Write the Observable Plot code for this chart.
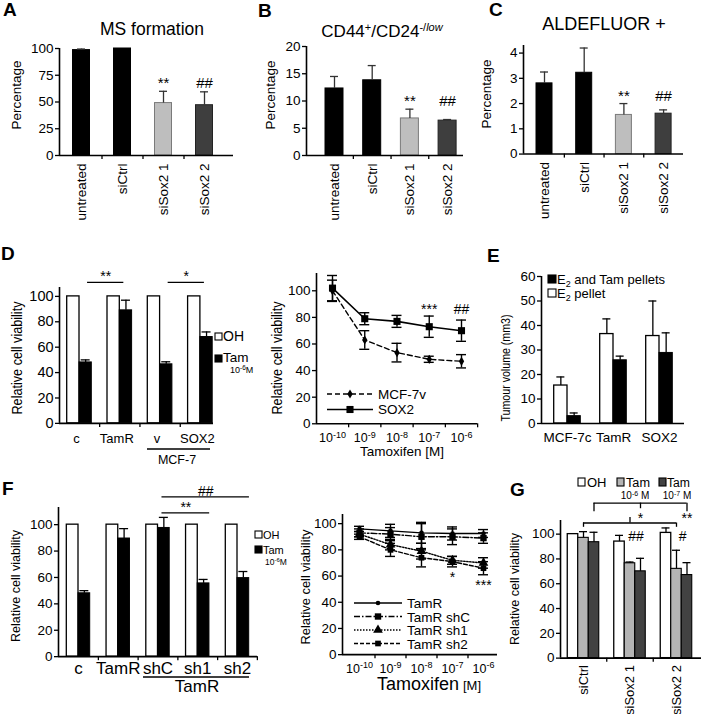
<!DOCTYPE html>
<html>
<head>
<meta charset="utf-8">
<script src="https://cdn.jsdelivr.net/npm/d3@7"></script>
<script src="https://cdn.jsdelivr.net/npm/@observablehq/plot@0.6"></script>
<style>
  html, body { margin: 0; padding: 0; background: #fff; }
  #fig { position: relative; width: 702px; height: 714px; overflow: hidden; background: #fff; }
  #fig svg { position: absolute; overflow: visible; }
</style>
</head>
<body>
<div id="fig"></div>
<script>
// ================= DATA =================
// Panels A–C
const catsABC = ["untreated", "siCtrl", "siSox2 1", "siSox2 2"];
const sigABC = ["", "", "**", "##"];
const msFormation = [98.5, 100, 49, 47];
const msFormationErr = [99.5, null, 60, 59.5];
const cd44Percent = [12.3, 13.8, 6.8, 6.4];
const cd44PercentErr = [14.5, 16.5, 8.5, 6.6];
const aldefluorPercent = [2.8, 3.22, 1.55, 1.6];
const aldefluorPercentErr = [3.25, 4.2, 2.0, 1.75];

// Panel D (left)
const catsD = ["c", "TamR", "v", "SOX2"];
const dOH = [100, 100, 100, 100];
const dTam = [48, 89, 46.5, 68];
const dTamErr = [50, 97, 48.5, 72];
const dSig = [{a: 0, b: 1, label: "**", level: 111}, {a: 2, b: 3, label: "*", level: 111}];

// Panel D (right)
const tamDoses = ["10^-10", "10^-9", "10^-8", "10^-7", "10^-6"];
const mcf7v = [100, 63, 53.5, 48.5, 47];
const mcf7vSd = [8, 7, 7, 2.3, 5];
const sox2 = [102, 79, 77, 73, 70];
const sox2Sd = [9.5, 4.5, 4.5, 8, 8];
const dRightSig = [{dose: 3, label: "***"}, {dose: 4, label: "##"}];

// Panel E
const catsE = ["MCF-7c", "TamR", "SOX2"];
const eE2 = [15.5, 36.5, 35.7];
const eE2Err = [19, 42.7, 50];
const eE2Tam = [3, 25.8, 28.8];
const eE2TamErr = [4.3, 27.5, 37];

// Panel F (left)
const catsF = ["c", "TamR", "shC", "sh1", "sh2"];
const fOH = [100, 100, 100, 100, 100];
const fTam = [48, 89.5, 97.5, 55.5, 59.5];
const fTamErr = [50, 97, 105.5, 58.5, 64.5];
const fSig = [{a: 2, b: 4, label: "##", level: 121}, {a: 2, b: 3, label: "**", level: 109}];

// Panel F (right)
const fTamR = [96, 94.5, 93, 92.5, 92.5];
const fTamRSd = [2, 5, 8, 5, 3];
const fShC = [93, 92, 90, 90, 89];
const fShCSd = [3, 5, 10, 6, 4];
const fSh1 = [92, 84, 79, 72, 70];
const fSh1Sd = [2, 4, 6, 3, 4];
const fSh2 = [90, 80, 74, 71, 66];
const fSh2Sd = [2, 5, 7, 4, 5];
const fRightSig = [{dose: 3, label: "*"}, {dose: 4, label: "***"}];

// Panel G
const catsG = ["siCtrl", "siSox2 1", "siSox2 2"];
const gOH = [100, 94, 101];
const gOHErr = [null, 99, 105];
const gTam6 = [97, 76.5, 72];
const gTam6Err = [102, 77.5, 87];
const gTam7 = [93.5, 70, 67];
const gTam7Err = [101.5, 80.5, 77];
const gSig = [{group: 1, label: "##", level: 98}, {group: 2, label: "#", level: 98}];
const gBracketStars = ["", "*", "**"];

// ================= DRAWING =================
const FONT = '"Liberation Sans", Arial, Helvetica, sans-serif';
const fig = document.getElementById("fig");

function geom(o) {
  const ppu = (o.yBase - o.yRef) / o.refVal;
  return {...o, ppu, yTop: o.yBase - o.ymax * ppu,
    xdom: [(o.x0 - o.c0) / o.step, (o.x1 - o.c0) / o.step]};
}
function panel(g, marks) {
  const ml = 40, mr = 10, mt = 12, mb = 70;
  const w = ml + (g.x1 - g.x0) + mr, h = mt + (g.yBase - g.yTop) + mb;
  const svg = Plot.plot({
    width: w, height: h, marginLeft: ml, marginRight: mr, marginTop: mt, marginBottom: mb,
    x: {domain: g.xdom}, y: {domain: [0, g.ymax]}, color: {type: "identity"},
    style: {fontFamily: FONT, color: "#000", background: "none", overflow: "visible"},
    marks
  });
  svg.style.position = "absolute";
  svg.style.left = (g.x0 - ml) + "px";
  svg.style.top = (g.yTop - mt) + "px";
  fig.appendChild(svg);
  return svg;
}
function frameAxes(g, o) {
  const marks = [
    Plot.axisY({ticks: o.yticks, tickFormat: d => String(d), tickSize: 4, tickPadding: 2, fontSize: o.yFont ?? 13,
      label: null, strokeWidth: 1.3}),
    Plot.axisX({ticks: d3.range(o.cats.length), tickFormat: i => o.cats[i], tickSize: 0, tickPadding: o.pad ?? 8,
      tickRotate: o.rotate ? -90 : 0, fontSize: o.catFont ?? 13, label: null, dx: o.dx ?? 0}),
    Plot.ruleX([g.xdom[0]], {y1: 0, y2: g.ymax, strokeWidth: 1.6}),
    Plot.ruleY([0], {x1: g.xdom[0], x2: g.xdom[1], strokeWidth: 1.6})
  ];
  if (o.bounds) marks.push(Plot.axisX({ticks: o.bounds, tickFormat: () => "", tickSize: 4, label: null, strokeWidth: 1.3}));
  return marks;
}
function upperErr(data, x, y, e, cap, color = "#000") {
  const d2 = data.filter(d => e(d) != null);
  return [
    Plot.ruleX(d2, {x, y1: y, y2: e, stroke: color, strokeWidth: 1.3}),
    Plot.ruleY(d2, {y: e, x1: d => x(d) - cap, x2: d => x(d) + cap, stroke: color, strokeWidth: 1.3})
  ];
}
function fullErr(data, x, y, sd, cap) {
  return [
    Plot.ruleX(data, {x, y1: d => y(d) - sd(d), y2: d => y(d) + sd(d), strokeWidth: 1.4}),
    Plot.ruleY(data, {y: d => y(d) + sd(d), x1: d => x(d) - cap, x2: d => x(d) + cap, strokeWidth: 1.4}),
    Plot.ruleY(data, {y: d => y(d) - sd(d), x1: d => x(d) - cap, x2: d => x(d) + cap, strokeWidth: 1.4})
  ];
}
function supTicks(svg) {
  d3.select(svg).selectAll("text").each(function() {
    const m = /^10\^(-?\d+)$/.exec(this.textContent);
    if (m) {
      this.textContent = "10";
      d3.select(this).append("tspan").attr("dy", "-0.45em").attr("font-size", "0.72em").text(m[1]);
    }
  });
}

// ---- Panels A, B, C
const ABC_FILL = ["#000000", "#000000", "#bebebe", "#3e3e3e"];
const ABC_STROKE = ["#000000", "#000000", "#7a7a7a", "#222222"];
function drawABC(g, vals, errs, yticks, halfPx) {
  const data = catsABC.map((c, i) => ({i, v: vals[i], e: errs[i], s: sigABC[i]}));
  const hw = halfPx / g.step, cap = 4 / g.step;
  const sigY = d3.max(data.filter(d => d.s), d => d.e);
  panel(g, [
    Plot.rectY(data, {x1: d => d.i - hw, x2: d => d.i + hw, y1: 0, y2: "v",
      fill: d => ABC_FILL[d.i], stroke: d => ABC_STROKE[d.i], strokeWidth: 1}),
    ...upperErr(data, d => d.i, d => d.v, d => d.e, cap, "#333"),
    Plot.text(data.filter(d => d.s), {x: "i", y: () => sigY, text: "s", lineAnchor: "bottom", dy: -3, fontSize: 15}),
    ...frameAxes(g, {yticks, cats: catsABC, rotate: true, pad: 8, catFont: 13.5, yFont: 13.5, bounds: [0.5, 1.5, 2.5]})
  ]);
}
drawABC(geom({x0: 59, x1: 233, c0: 81, step: 41, yBase: 155, yRef: 48, refVal: 100, ymax: 100}),
  msFormation, msFormationErr, [0, 25, 50, 75, 100], 8.5);
drawABC(geom({x0: 306, x1: 463, c0: 334, step: 37.7, yBase: 155, yRef: 46, refVal: 20, ymax: 20}),
  cd44Percent, cd44PercentErr, [0, 5, 10, 15, 20], 9);
drawABC(geom({x0: 523, x1: 683, c0: 544, step: 39.7, yBase: 154, yRef: 53, refVal: 4, ymax: 4.3}),
  aldefluorPercent, aldefluorPercentErr, [0, 1, 2, 3, 4], 8);

// ---- Panel D left
{
  const g = geom({x0: 59, x1: 213, c0: 79, step: 40.3, yBase: 423, yRef: 296, refVal: 100, ymax: 107});
  const data = catsD.map((c, i) => ({i, oh: dOH[i], tam: dTam[i], e: dTamErr[i]}));
  const bw = 12.3 / g.step;
  panel(g, [
    Plot.rectY(data, {x1: d => d.i - bw, x2: "i", y1: 0, y2: "oh", fill: "white", stroke: "black", strokeWidth: 1.3}),
    Plot.rectY(data, {x1: "i", x2: d => d.i + bw, y1: 0, y2: "tam", fill: "black", stroke: "black", strokeWidth: 1}),
    ...upperErr(data, d => d.i + bw / 2, d => d.tam, d => d.e, 4.5 / g.step),
    Plot.ruleY(dSig, {y: "level", x1: d => d.a + 0.2, x2: d => d.b + 0.1, strokeWidth: 1.3}),
    Plot.text(dSig, {x: d => (d.a + d.b + 0.3) / 2, y: "level", text: "label", lineAnchor: "bottom", dy: -1, fontSize: 14}),
    ...frameAxes(g, {yticks: d3.range(0, 101, 20), cats: catsD, pad: 10, catFont: 13, yFont: 14.5, bounds: [0.5, 1.5, 2.5], dx: -3})
  ]);
}

// ---- Panel D right
{
  const g = geom({x0: 316, x1: 477, c0: 332, step: 32.25, yBase: 423, yRef: 290, refVal: 100, ymax: 113});
  const data = tamDoses.map((t, i) => ({i, m: mcf7v[i], ms: mcf7vSd[i], s: sox2[i], ss: sox2Sd[i]}));
  const cap = 5 / g.step;
  const sigLevel = d3.max(dRightSig, d => sox2[d.dose] + sox2Sd[d.dose]);
  const svg = panel(g, [
    ...fullErr(data, d => d.i, d => d.m, d => d.ms, cap),
    ...fullErr(data, d => d.i, d => d.s, d => d.ss, cap),
    Plot.line(data, {x: "i", y: "m", stroke: "black", strokeWidth: 1.4, strokeDasharray: "5,3"}),
    Plot.line(data, {x: "i", y: "s", stroke: "black", strokeWidth: 1.6}),
    Plot.dot(data, {x: "i", y: "m", symbol: "diamond", r: 2.8, fill: "black"}),
    Plot.dot(data, {x: "i", y: "s", symbol: "square", r: 4, fill: "black"}),
    Plot.text(dRightSig, {x: "dose", y: () => sigLevel, text: "label", lineAnchor: "bottom", dy: -2, fontSize: 14}),
    ...frameAxes(g, {yticks: d3.range(0, 101, 20), cats: tamDoses, pad: 9, catFont: 12.5, yFont: 13.5, bounds: [0.5, 1.5, 2.5, 3.5, 4.5]})
  ]);
  supTicks(svg);
}

// ---- Panel E
{
  const g = geom({x0: 541, x1: 684, c0: 567, step: 46, yBase: 423, yRef: 276, refVal: 60, ymax: 60});
  const data = catsE.map((c, i) => ({i, a: eE2[i], ae: eE2Err[i], b: eE2Tam[i], be: eE2TamErr[i]}));
  const bw = 13.3 / g.step, cap = 4 / g.step;
  panel(g, [
    Plot.rectY(data, {x1: d => d.i - bw, x2: "i", y1: 0, y2: "a", fill: "white", stroke: "black", strokeWidth: 1.3}),
    Plot.rectY(data, {x1: "i", x2: d => d.i + bw, y1: 0, y2: "b", fill: "black", stroke: "black", strokeWidth: 1}),
    ...upperErr(data, d => d.i - bw / 2, d => d.a, d => d.ae, cap),
    ...upperErr(data, d => d.i + bw / 2, d => d.b, d => d.be, cap),
    ...frameAxes(g, {yticks: d3.range(0, 61, 10), cats: catsE, pad: 9, catFont: 13.5, yFont: 13.5})
  ]);
}

// ---- Panel F left
{
  const g = geom({x0: 58, x1: 257, c0: 78, step: 39.75, yBase: 656, yRef: 524, refVal: 100, ymax: 113});
  const data = catsF.map((c, i) => ({i, oh: fOH[i], tam: fTam[i], e: fTamErr[i]}));
  const bw = 11.7 / g.step;
  panel(g, [
    Plot.rectY(data, {x1: d => d.i - bw, x2: "i", y1: 0, y2: "oh", fill: "white", stroke: "black", strokeWidth: 1.3}),
    Plot.rectY(data, {x1: "i", x2: d => d.i + bw, y1: 0, y2: "tam", fill: "black", stroke: "black", strokeWidth: 1}),
    ...upperErr(data, d => d.i + bw / 2, d => d.tam, d => d.e, 4.5 / g.step),
    Plot.ruleY(fSig, {y: "level", x1: d => d.a + 0.1, x2: d => d.b + 0.3, strokeWidth: 1.3}),
    Plot.text(fSig, {x: d => (d.a + d.b + 0.4) / 2, y: "level", text: "label", lineAnchor: "bottom", dy: -1, fontSize: 14}),
    ...frameAxes(g, {yticks: d3.range(0, 101, 20), cats: catsF, pad: 5.5, catFont: 17, yFont: 13.5, bounds: [0.5, 1.5, 2.5, 3.5, 4.5]})
  ]);
}

// ---- Panel F right
const frSeries = [
  {label: "TamR", v: fTamR, sd: fTamRSd, dash: "none", symbol: "circle", r: 2.3},
  {label: "TamR shC", v: fShC, sd: fShCSd, dash: "6,2,1.5,2", symbol: "square", r: 3.6},
  {label: "TamR sh1", v: fSh1, sd: fSh1Sd, dash: "1.5,1.5", symbol: "triangle", r: 3.6},
  {label: "TamR sh2", v: fSh2, sd: fSh2Sd, dash: "4,2", symbol: "square", r: 3.2}
];
{
  const g = geom({x0: 342, x1: 497, c0: 359, step: 31, yBase: 654, yRef: 523, refVal: 100, ymax: 107});
  const cap = 5 / g.step;
  const marks = [];
  for (const s of frSeries) {
    const data = tamDoses.map((t, i) => ({i, v: s.v[i], sd: s.sd[i]}));
    marks.push(...fullErr(data, d => d.i, d => d.v, d => d.sd, cap));
  }
  for (const s of frSeries) {
    const data = tamDoses.map((t, i) => ({i, v: s.v[i]}));
    marks.push(Plot.line(data, {x: "i", y: "v", stroke: "black", strokeWidth: 1.4, strokeDasharray: s.dash}));
    marks.push(Plot.dot(data, {x: "i", y: "v", symbol: s.symbol, r: s.r, fill: "black"}));
  }
  marks.push(Plot.text(fRightSig, {x: "dose", y: d => fSh2[d.dose] - fSh2Sd[d.dose], text: "label", lineAnchor: "top", dy: 5, fontSize: 14}));
  marks.push(...frameAxes(g, {yticks: d3.range(0, 101, 20), cats: tamDoses, pad: 9, catFont: 12.5, yFont: 13.5, bounds: [0.5, 1.5, 2.5, 3.5]}));
  const svg = panel(g, marks);
  supTicks(svg);
}

// ---- Panel G
{
  const g = geom({x0: 560, x1: 701, c0: 583, step: 46.5, yBase: 658, yRef: 534, refVal: 100, ymax: 111});
  const bw = 10.5 / g.step, cap = 4 / g.step;
  const data = catsG.map((c, i) => ({i, oh: gOH[i], ohe: gOHErr[i], t6: gTam6[i], t6e: gTam6Err[i], t7: gTam7[i], t7e: gTam7Err[i]}));
  const last = catsG.length - 1, mid = 1;
  const stars = catsG.map((c, i) => ({i, s: gBracketStars[i]})).filter(d => d.s);
  panel(g, [
    Plot.rectY(data, {x1: d => d.i - 1.5 * bw, x2: d => d.i - 0.5 * bw, y1: 0, y2: "oh", fill: "white", stroke: "black", strokeWidth: 1.3}),
    Plot.rectY(data, {x1: d => d.i - 0.5 * bw, x2: d => d.i + 0.5 * bw, y1: 0, y2: "t6", fill: "#b4b4b4", stroke: "black", strokeWidth: 1.1}),
    Plot.rectY(data, {x1: d => d.i + 0.5 * bw, x2: d => d.i + 1.5 * bw, y1: 0, y2: "t7", fill: "#424242", stroke: "black", strokeWidth: 1.1}),
    ...upperErr(data, d => d.i - bw, d => d.oh, d => d.ohe, cap),
    ...upperErr(data, d => d.i, d => d.t6, d => d.t6e, cap),
    ...upperErr(data, d => d.i + bw, d => d.t7, d => d.t7e, cap),
    // bracket: Tam 10^-6 M (grey bars)
    Plot.ruleY([109], {x1: 0, x2: last, strokeWidth: 1.3}),
    Plot.ruleX([0, last], {y1: 105.5, y2: 109, strokeWidth: 1.3}),
    Plot.ruleX([mid], {y1: 109, y2: 113.5, strokeWidth: 1.3}),
    // bracket: Tam 10^-7 M (dark bars)
    Plot.ruleY([125], {x1: bw, x2: last + bw, strokeWidth: 1.3}),
    Plot.ruleX([bw, last + bw], {y1: 118, y2: 125, strokeWidth: 1.3}),
    Plot.ruleX([mid + bw], {y1: 120.5, y2: 125, strokeWidth: 1.3}),
    Plot.text(stars, {x: d => d.i + bw, y: () => 114.5, text: "s", lineAnchor: "middle", dy: 2, fontSize: 14}),
    Plot.text(gSig, {x: d => d.group + 0.13, y: "level", text: "label", lineAnchor: "middle", fontSize: 14}),
    ...frameAxes(g, {yticks: d3.range(0, 101, 20), cats: catsG, rotate: true, pad: 7, catFont: 13, yFont: 13.5, bounds: [0.5, 1.5]})
  ]);
}

// ================= OVERLAY TEXT / LEGENDS =================
const ov = d3.select(fig).append("svg").attr("width", 702).attr("height", 714)
  .style("left", "0px").style("top", "0px").attr("font-family", FONT);
function T(x, y, html, o = {}) {
  const t = ov.append("text").attr("x", x).attr("y", y).attr("font-size", o.size ?? 13)
    .attr("text-anchor", o.anchor ?? "start").attr("fill", "#000");
  if (o.bold) t.attr("font-weight", "bold");
  if (o.len) t.attr("textLength", o.len).attr("lengthAdjust", "spacingAndGlyphs");
  if (o.rot) t.attr("transform", `rotate(-90 ${x} ${y})`);
  t.html(html);
  return t;
}
function R(x, y, w, h, fill) {
  ov.append("rect").attr("x", x).attr("y", y).attr("width", w).attr("height", h)
    .attr("fill", fill).attr("stroke", "#000").attr("stroke-width", 1.1);
}
function L(x1, y1, x2, y2, dash) {
  const l = ov.append("line").attr("x1", x1).attr("y1", y1).attr("x2", x2).attr("y2", y2)
    .attr("stroke", "#000").attr("stroke-width", 1.4);
  if (dash && dash !== "none") l.attr("stroke-dasharray", dash);
}
const SYM = {circle: d3.symbolCircle, square: d3.symbolSquare, triangle: d3.symbolTriangle, diamond: d3.symbolDiamond};
function S(x, y, sym, r) {
  ov.append("path").attr("d", d3.symbol(SYM[sym], Math.PI * r * r)()).attr("transform", `translate(${x},${y})`).attr("fill", "#000");
}
const sup = (s, fs) => `<tspan dy="-0.45em" font-size="${fs}">${s}</tspan>`;

// panel letters
[["A", 3, 16], ["B", 258, 17], ["C", 489, 16], ["D", 1, 260], ["E", 487, 262], ["F", 2, 495], ["G", 510, 496]]
  .forEach(([s, x, y]) => T(x, y, s, {size: 19, bold: true}));

// titles
T(152, 35, "MS formation", {size: 17.5, anchor: "middle"});
T(382, 36.5, 'CD44<tspan dy="-6" font-size="11">+</tspan><tspan dy="6">/CD24</tspan><tspan dy="-6" font-size="11">-/<tspan font-style="italic">low</tspan></tspan>', {size: 17, anchor: "middle"});
T(604, 30, "ALDEFLUOR +", {size: 18, anchor: "middle"});

// y-axis titles
T(21, 95, "Percentage", {size: 13.5, anchor: "middle", rot: true});
T(274.5, 95, "Percentage", {size: 13.5, anchor: "middle", rot: true});
T(491, 94, "Percentage", {size: 13.5, anchor: "middle", rot: true});
T(21.5, 358, "Relative cell viability", {size: 14, anchor: "middle", rot: true, len: 113});
T(282, 358, "Relative cell viability", {size: 14, anchor: "middle", rot: true, len: 113});
T(509.5, 368, "Tumour volume (mm3)", {size: 13, anchor: "middle", rot: true, len: 107});
T(20, 586, "Relative cell viability", {size: 13, anchor: "middle", rot: true, len: 112});
T(309.5, 587, "Relative cell viability", {size: 13, anchor: "middle", rot: true, len: 115});
T(518.5, 589, "Relative cell viability", {size: 13, anchor: "middle", rot: true, len: 112});

// x-axis titles / group labels
T(402, 455.5, "Tamoxifen [M]", {size: 13.5, anchor: "middle"});
T(377, 690, "Tamoxifen", {size: 18});
T(463, 690, "[M]", {size: 13});
L(147, 449, 210, 449);
T(177, 464, "MCF-7", {size: 12.5, anchor: "middle"});
L(143, 677, 249, 677);
T(197, 692, "TamR", {size: 17, anchor: "middle"});

// legend D left
R(215, 333, 7, 7, "white"); T(223, 341, "OH", {size: 14});
R(215, 355, 7, 7, "black"); T(223, 362, "Tam", {size: 13.5});
T(230, 373, "10" + sup("-6", 6.5) + '<tspan dy="0.3em">M</tspan>', {size: 9});

// legend D right
L(327, 394, 373, 394, "5,3"); S(350, 394, "diamond", 2.8); T(378, 399, "MCF-7v", {size: 13.5});
L(327, 409.5, 373, 409.5); S(350, 409.5, "square", 4); T(378, 414, "SOX2", {size: 13.5});

// legend E
R(548, 275, 8, 8, "black");
T(557, 284, 'E<tspan dy="3" font-size="9">2</tspan><tspan dy="-3"> and Tam pellets</tspan>', {size: 13});
R(548, 289, 8, 8, "white");
T(557, 298, 'E<tspan dy="3" font-size="9">2</tspan><tspan dy="-3"> pellet</tspan>', {size: 13});

// legend F left
R(255, 531, 7, 7, "white"); T(263, 538.5, "OH", {size: 11});
R(255, 546, 7, 7, "black"); T(263, 553.5, "Tam", {size: 11});
T(265, 565, "10" + sup("-6", 6) + '<tspan dy="0.3em">M</tspan>', {size: 8.5});

// legend F right
frSeries.forEach((s, k) => {
  const y = 603 + k * 13.5;
  L(354, y, 402, y, s.dash);
  S(378, y, s.symbol, s.r);
  T(407, y + 5, s.label, {size: 13.5});
});

// legend G
R(578, 478, 7, 8, "white"); T(587, 487, "OH", {size: 13});
R(617, 478, 7, 8, "#b4b4b4"); T(626, 487, "Tam", {size: 12.5, len: 24});
R(659, 478, 7, 8, "#424242"); T(667, 487, "Tam", {size: 12.5, len: 23});
T(635, 499, "10" + sup("-6", 7) + '<tspan dy="0.3em"> M</tspan>', {size: 10, anchor: "middle"});
T(677, 499, "10" + sup("-7", 7) + '<tspan dy="0.3em"> M</tspan>', {size: 10, anchor: "middle"});
</script>
</body>
</html>
